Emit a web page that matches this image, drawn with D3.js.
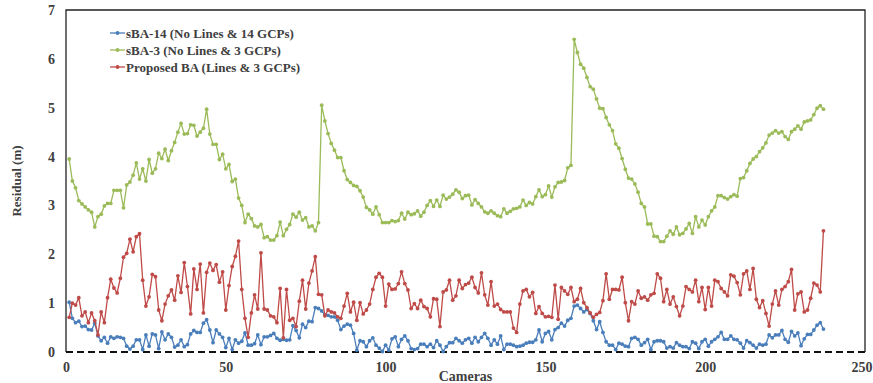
<!DOCTYPE html>
<html>
<head>
<meta charset="utf-8">
<script src="https://cdn.jsdelivr.net/npm/d3@7/dist/d3.min.js"></script>
<style>
  body { margin: 0; background: #fff; }
  svg text { font-family: "Liberation Serif", "Times New Roman", serif; font-weight: bold; fill: #404040; }
</style>
</head>
<body>
<div id="chart"></div>
<script>
// residuals per camera (1..237)
var sba14 = [
  1.02,0.69,0.60,0.63,0.52,0.53,0.46,0.45,0.59,0.33,
  0.23,0.30,0.18,0.31,0.28,0.31,0.30,0.28,0.12,0.06,
  0.12,0.25,0.25,0.05,0.35,0.12,0.37,0.35,0.07,0.41,
  0.25,0.37,0.30,0.10,0.14,0.25,0.11,0.15,0.37,0.44,
  0.40,0.40,0.59,0.66,0.45,0.19,0.45,0.37,0.30,0.09,
  0.28,0.05,0.25,0.18,0.22,0.39,0.14,0.14,0.17,0.35,
  0.15,0.31,0.31,0.34,0.38,0.28,0.24,0.26,0.24,0.25,
  0.54,0.44,0.29,0.57,0.50,0.63,0.62,0.91,0.89,0.84,
  0.76,0.75,0.72,0.72,0.65,0.46,0.53,0.57,0.55,0.38,
  0.04,0.23,0.21,0.11,0.23,0.29,0.14,0.08,0.01,0.14,
  0.04,0.27,0.31,0.11,0.26,0.33,0.23,0.07,0.05,0.07,
  0.16,0.16,0.11,0.16,0.09,0.23,0.14,0.01,0.11,0.19,
  0.19,0.28,0.23,0.18,0.25,0.28,0.18,0.30,0.21,0.30,
  0.38,0.28,0.14,0.25,0.16,0.33,0.05,0.16,0.16,0.14,
  0.11,0.12,0.14,0.18,0.20,0.20,0.25,0.45,0.21,0.38,
  0.42,0.25,0.46,0.50,0.59,0.53,0.65,0.69,0.94,0.96,
  0.89,0.82,0.87,0.79,0.64,0.46,0.62,0.40,0.21,0.14,
  0.14,0.05,0.18,0.16,0.12,0.11,0.28,0.30,0.26,0.14,
  0.19,0.26,0.05,0.21,0.23,0.23,0.21,0.08,0.11,0.08,
  0.19,0.14,0.11,0.11,0.07,0.21,0.18,0.07,0.21,0.26,
  0.12,0.21,0.26,0.31,0.40,0.26,0.26,0.33,0.26,0.25,
  0.18,0.08,0.23,0.19,0.14,0.08,0.16,0.14,0.16,0.35,
  0.29,0.35,0.35,0.44,0.26,0.20,0.42,0.33,0.39,0.13,
  0.27,0.36,0.36,0.45,0.55,0.60,0.47
];

var sba3 = [
  3.95,3.50,3.36,3.10,3.03,2.97,2.91,2.86,2.56,2.77,
  2.82,2.99,3.04,3.04,3.31,3.31,3.31,2.95,3.42,3.48,
  3.62,3.87,3.54,3.75,3.50,3.94,3.66,3.75,4.07,3.96,
  4.15,3.92,4.12,4.29,4.50,4.68,4.46,4.47,4.65,4.64,
  4.42,4.50,4.58,4.97,4.46,4.25,4.25,3.94,4.05,3.75,
  3.84,3.49,3.54,3.15,3.00,2.65,2.82,2.73,2.58,2.56,
  2.61,2.34,2.36,2.29,2.29,2.38,2.66,2.38,2.51,2.61,
  2.82,2.76,2.86,2.70,2.75,2.56,2.58,2.48,2.65,5.05,
  4.73,4.47,4.27,4.13,3.98,3.98,3.71,3.53,3.47,3.41,
  3.39,3.30,3.17,2.96,2.91,2.82,2.97,2.81,2.65,2.65,
  2.65,2.69,2.67,2.69,2.84,2.72,2.86,2.81,2.83,2.89,
  2.78,2.86,3.00,3.10,2.98,3.11,2.98,3.21,3.13,3.17,
  3.23,3.32,3.27,3.14,3.20,3.21,3.01,3.12,3.04,2.97,
  2.87,2.84,2.89,2.84,2.79,2.77,2.93,2.84,2.88,2.93,
  2.94,2.97,3.11,3.00,3.06,3.03,3.18,3.32,3.18,3.22,
  3.40,3.17,3.38,3.47,3.48,3.51,3.77,3.82,6.40,6.13,
  5.89,5.81,5.62,5.43,5.38,5.18,4.99,4.98,4.80,4.65,
  4.53,4.26,4.17,3.96,3.74,3.56,3.54,3.44,3.27,3.04,
  2.97,2.62,2.62,2.37,2.36,2.26,2.26,2.37,2.48,2.41,
  2.56,2.40,2.43,2.52,2.63,2.43,2.77,2.56,2.70,2.60,
  2.77,2.89,2.97,3.20,3.20,3.16,3.13,3.18,3.22,3.19,
  3.55,3.57,3.71,3.86,3.95,4.00,4.10,4.18,4.28,4.44,
  4.48,4.53,4.48,4.51,4.41,4.35,4.51,4.56,4.63,4.56,
  4.71,4.73,4.75,4.86,4.99,5.04,4.97
];

var proposed = [
  0.71,1.00,0.96,1.11,0.74,0.82,0.60,0.80,0.64,0.35,
  0.82,0.60,1.11,1.49,1.31,1.21,1.51,1.94,2.02,2.31,
  2.05,2.36,2.42,1.47,0.94,1.13,1.59,1.54,0.86,0.64,
  0.98,1.15,1.27,1.06,1.56,1.22,1.83,1.34,0.78,1.70,
  1.28,1.80,0.80,1.63,1.82,1.67,1.79,1.43,1.64,0.86,
  1.36,1.75,1.96,2.27,1.28,0.69,0.30,0.80,1.17,0.88,
  2.03,0.88,0.86,0.74,0.72,0.60,1.30,0.29,1.28,0.65,
  0.69,0.52,1.04,1.47,0.88,1.41,1.66,1.95,1.18,1.17,
  0.74,0.86,0.82,0.80,0.72,0.69,0.94,1.20,0.82,1.02,
  0.65,1.01,0.78,0.86,0.98,1.28,1.53,1.61,1.53,0.94,
  1.39,1.28,1.29,1.40,1.64,1.40,1.27,0.89,0.99,0.89,
  1.06,0.93,0.89,0.72,1.09,1.08,0.52,1.23,1.27,1.47,
  1.06,1.15,1.47,1.30,1.38,1.41,1.53,1.32,1.21,1.62,
  1.17,0.96,1.44,0.94,0.98,0.87,0.82,0.82,0.82,0.49,
  0.40,0.98,1.25,1.28,1.13,1.22,0.79,0.93,0.79,0.72,
  0.73,0.71,1.37,0.67,1.32,1.25,1.18,1.32,1.03,1.08,
  1.30,1.01,0.91,0.80,0.71,0.77,0.81,1.05,1.60,1.08,
  1.28,1.28,1.27,1.53,1.01,0.64,1.03,0.98,1.25,1.10,
  1.13,1.06,1.17,1.20,1.60,1.51,1.03,1.28,0.98,1.13,
  0.93,0.74,0.94,1.34,1.28,1.23,1.47,1.03,1.32,0.87,
  1.32,0.94,1.47,1.44,1.30,1.23,1.15,1.58,1.55,1.42,
  1.17,1.60,1.66,1.28,1.71,1.08,0.91,1.05,0.79,0.53,
  0.98,1.25,0.96,1.28,1.34,1.44,1.69,0.86,1.19,1.23,
  0.82,0.86,1.10,1.41,1.37,1.23,2.48
];

var seriesNames = ["sBA-14 (No Lines & 14 GCPs)", "sBA-3 (No Lines & 3 GCPs)", "Proposed BA (Lines & 3 GCPs)"];
var seriesColors = ["#4a7ebb", "#9bbb59", "#be4b48"];
var xTicks = [0, 50, 100, 150, 200, 250];
var yTicks = [0, 1, 2, 3, 4, 5, 6, 7];

var width = 873, height = 383;
var margin = {top: 10, right: 8, bottom: 31, left: 66};
var serif = "'Liberation Serif', 'Times New Roman', serif";

var svg = d3.select("#chart").append("svg")
    .attr("width", width)
    .attr("height", height);

var x = d3.scaleLinear()
    .domain([0, 250])
    .range([margin.left, width - margin.right]);

var y = d3.scaleLinear()
    .domain([0, 7])
    .range([height - margin.bottom, margin.top]);

// frame (left, top, right) and dashed zero line
svg.append("path")
    .attr("d", "M" + x(0) + "," + y(0) + "V" + y(7) + "H" + x(250) + "V" + y(0))
    .attr("fill", "none")
    .attr("stroke", "#222")
    .attr("stroke-width", 1.3);

svg.append("line")
    .attr("x1", x(0)).attr("x2", x(250))
    .attr("y1", y(0)).attr("y2", y(0))
    .attr("stroke", "#111")
    .attr("stroke-width", 2)
    .attr("stroke-dasharray", "7,4");

// axes, text only
var yAxis = svg.append("g")
    .attr("transform", "translate(" + x(0) + ",0)")
    .call(d3.axisLeft(y).tickValues(yTicks).tickFormat(d3.format("d")).tickSize(0).tickPadding(11));
yAxis.attr("font-family", serif).attr("font-size", 14);
yAxis.select(".domain").remove();

var xAxis = svg.append("g")
    .attr("transform", "translate(0," + y(0) + ")")
    .call(d3.axisBottom(x).tickValues(xTicks).tickFormat(d3.format("d")).tickSize(0).tickPadding(10));
xAxis.attr("font-family", serif).attr("font-size", 14);
xAxis.select(".domain").remove();
// last label sits against the page edge
xAxis.selectAll(".tick text")
    .filter(function(d) { return d === 250; })
    .attr("text-anchor", "end")
    .attr("dx", 7);

svg.append("text")
    .attr("x", (x(0) + x(250)) / 2)
    .attr("y", 381)
    .attr("text-anchor", "middle")
    .style("font-size", "14px")
    .text("Cameras");

svg.append("text")
    .attr("transform", "translate(21," + ((y(0) + y(7)) / 2) + ") rotate(-90)")
    .attr("text-anchor", "middle")
    .style("font-size", "13px")
    .text("Residual (m)");

// series
var allSeries = [sba14, sba3, proposed];
var line = d3.line()
    .x(function(d, i) { return x(i + 1); })
    .y(function(d) { return y(d); });

allSeries.forEach(function(vals, k) {
    var g = svg.append("g");
    g.append("path")
        .datum(vals)
        .attr("fill", "none")
        .attr("stroke", seriesColors[k])
        .attr("stroke-width", 1.3)
        .attr("d", line);
    g.selectAll("circle")
        .data(vals)
        .enter().append("circle")
        .attr("cx", function(d, i) { return x(i + 1); })
        .attr("cy", function(d) { return y(d); })
        .attr("r", 1.9)
        .attr("fill", seriesColors[k]);
});

// legend
var legend = svg.append("g")
    .attr("transform", "translate(110,33)");
seriesNames.forEach(function(name, k) {
    var row = legend.append("g").attr("transform", "translate(0," + (k * 17) + ")");
    row.append("line")
        .attr("x1", 0).attr("x2", 15)
        .attr("stroke", seriesColors[k])
        .attr("stroke-width", 1.3);
    row.append("circle")
        .attr("cx", 7.5).attr("r", 1.9)
        .attr("fill", seriesColors[k]);
    row.append("text")
        .attr("x", 16)
        .attr("dy", "0.35em")
        .style("font-size", "13px")
        .text(name);
});
</script>
</body>
</html>
